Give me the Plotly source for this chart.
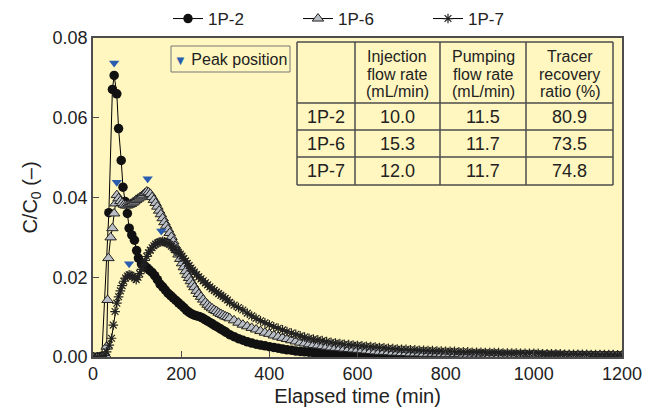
import plotly.graph_objects as go

# ---------------- data ----------------
T_TAIL = list(range(310, 1201, 10))  # sampling times after 300 min

T_1P2_EARLY = [0, 10, 20, 36, 44, 48, 54, 58, 64, 68, 73, 78, 82, 88, 94, 99, 103, 110, 116, 122,
               128, 134, 140, 146, 152, 158, 164, 170, 176, 182, 188, 194, 200, 206, 212, 218, 224,
               230, 236, 242, 248, 254, 260, 266, 272, 278, 284, 290, 296, 302]
C_1P2_EARLY = [0, 0, 0.0002, 0.0362, 0.0671, 0.0706, 0.0660, 0.0573, 0.0493, 0.0426, 0.0390, 0.0360,
               0.0323, 0.0306, 0.0293, 0.0267, 0.0248, 0.0233, 0.0229, 0.0224, 0.0218, 0.0212, 0.0204,
               0.0194, 0.0183, 0.0176, 0.0168, 0.0160, 0.0154, 0.0148, 0.0142, 0.0136, 0.0130, 0.0124,
               0.0117, 0.0112, 0.0108, 0.0105, 0.0103, 0.0101, 0.0098, 0.0094, 0.0090, 0.0086, 0.0082,
               0.0078, 0.0074, 0.0070, 0.0066, 0.0062]
C_1P2_TAIL = [0.0056, 0.0051, 0.0046, 0.0042, 0.0038, 0.0035, 0.0032, 0.0030, 0.0028, 0.0026,
              0.0024, 0.0022, 0.0020, 0.0018, 0.0017, 0.0015, 0.0014, 0.0013, 0.0012, 0.0011,
              0.0011, 0.0010, 0.0010, 0.0009, 0.0009, 0.0008, 0.0008, 0.0007, 0.0007, 0.0007,
              0.0006, 0.0006, 0.0006, 0.0006, 0.0005, 0.0005, 0.0005, 0.0005, 0.0005, 0.0004,
              0.0004, 0.0005, 0.0004, 0.0004, 0.0004, 0.0004, 0.0005, 0.0004, 0.0004, 0.0004,
              0.0004, 0.0004, 0.0004, 0.0003, 0.0004, 0.0004, 0.0003, 0.0004, 0.0003, 0.0003,
              0.0003, 0.0004, 0.0003, 0.0003, 0.0003, 0.0003, 0.0004, 0.0003, 0.0003, 0.0003,
              0.0003, 0.0003, 0.0003, 0.0003, 0.0003, 0.0002, 0.0003, 0.0003, 0.0003, 0.0003,
              0.0003, 0.0002, 0.0003, 0.0003, 0.0002, 0.0003, 0.0003, 0.0002, 0.0003, 0.0003]

T_1P6_EARLY = [0, 10, 20, 28, 31, 33, 35, 40, 44, 48, 51, 54, 58, 62, 66, 70, 74, 78, 82, 86, 90, 94,
               98, 102, 106, 110, 114, 118, 122, 126, 130, 134, 138, 142, 146, 150, 154, 158, 162, 166,
               170, 174, 178, 182, 186, 190, 194, 198, 202, 206, 210, 214, 218, 222, 226, 230, 235,
               240, 245, 250, 255, 260, 265, 270, 275, 280, 285, 290, 295, 300, 305]
C_1P6_EARLY = [0, 0, 0, 0.0005, 0.0026, 0.0143, 0.0248, 0.0300, 0.0323, 0.0360, 0.0385, 0.0406,
               0.0398, 0.0391, 0.0386, 0.0382, 0.0380, 0.0380, 0.0382, 0.0384, 0.0387, 0.0390, 0.0394,
               0.0397, 0.0400, 0.0403, 0.0407, 0.0411, 0.0415, 0.0413, 0.0409, 0.0401, 0.0394, 0.0386,
               0.0377, 0.0367, 0.0358, 0.0348, 0.0338, 0.0329, 0.0320, 0.0311, 0.0301, 0.0290, 0.0279,
               0.0268, 0.0257, 0.0246, 0.0235, 0.0225, 0.0215, 0.0206, 0.0198, 0.0190, 0.0182, 0.0175,
               0.0166, 0.0158, 0.0151, 0.0144, 0.0137, 0.0131, 0.0126, 0.0122, 0.0118, 0.0115, 0.0111,
               0.0108, 0.0105, 0.0102, 0.0100]
C_1P6_TAIL = [0.0097, 0.0092, 0.0086, 0.0081, 0.0077, 0.0073, 0.0069, 0.0065, 0.0061, 0.0058,
              0.0054, 0.0051, 0.0048, 0.0045, 0.0042, 0.0039, 0.0036, 0.0034, 0.0032, 0.0030,
              0.0029, 0.0027, 0.0026, 0.0024, 0.0023, 0.0022, 0.0021, 0.0020, 0.0019, 0.0018,
              0.0017, 0.0016, 0.0015, 0.0014, 0.0013, 0.0013, 0.0012, 0.0011, 0.0011, 0.0010,
              0.0010, 0.0009, 0.0009, 0.0009, 0.0008, 0.0008, 0.0008, 0.0008, 0.0007, 0.0007,
              0.0007, 0.0007, 0.0007, 0.0006, 0.0006, 0.0006, 0.0006, 0.0006, 0.0006, 0.0005,
              0.0005, 0.0005, 0.0005, 0.0005, 0.0005, 0.0005, 0.0005, 0.0005, 0.0004, 0.0005,
              0.0004, 0.0004, 0.0005, 0.0004, 0.0004, 0.0004, 0.0004, 0.0004, 0.0004, 0.0004,
              0.0004, 0.0004, 0.0003, 0.0004, 0.0004, 0.0004, 0.0003, 0.0004, 0.0004, 0.0003]

T_1P7_EARLY = [0, 10, 20, 27, 31, 37, 42, 46, 50, 54, 58, 62, 66, 70, 74, 78, 82, 86, 90, 94, 98,
               102, 106, 110, 114, 118, 122, 126, 130, 134, 138, 142, 146, 150, 154, 158, 162, 166,
               170, 174, 178, 182, 186, 190, 194, 198, 202, 206, 210, 214, 218, 222, 226, 230, 235,
               240, 245, 250, 255, 260, 265, 270, 275, 280, 285, 290, 295, 300, 305]
C_1P7_EARLY = [0, 0, 0, 0.0004, 0.0013, 0.0030, 0.0047, 0.0080, 0.0114, 0.0135, 0.0151, 0.0166,
               0.0179, 0.0190, 0.0198, 0.0203, 0.0206, 0.0205, 0.0202, 0.0198, 0.0194, 0.0200, 0.0209,
               0.0220, 0.0231, 0.0242, 0.0252, 0.0261, 0.0268, 0.0274, 0.0279, 0.0283, 0.0286, 0.0288,
               0.0289, 0.0290, 0.0289, 0.0287, 0.0285, 0.0282, 0.0278, 0.0274, 0.0270, 0.0266, 0.0262,
               0.0258, 0.0253, 0.0247, 0.0241, 0.0235, 0.0229, 0.0223, 0.0218, 0.0213, 0.0207, 0.0201,
               0.0196, 0.0191, 0.0186, 0.0181, 0.0176, 0.0171, 0.0167, 0.0163, 0.0159, 0.0155, 0.0151,
               0.0147, 0.0143]
C_1P7_TAIL = [0.0137, 0.0130, 0.0124, 0.0118, 0.0110, 0.0103, 0.0097, 0.0091, 0.0086, 0.0081,
              0.0076, 0.0072, 0.0068, 0.0064, 0.0060, 0.0057, 0.0053, 0.0050, 0.0047, 0.0045,
              0.0043, 0.0041, 0.0039, 0.0037, 0.0035, 0.0034, 0.0032, 0.0031, 0.0030, 0.0029,
              0.0028, 0.0027, 0.0026, 0.0025, 0.0024, 0.0023, 0.0022, 0.0021, 0.0020, 0.0019,
              0.0019, 0.0018, 0.0018, 0.0017, 0.0017, 0.0016, 0.0016, 0.0015, 0.0015, 0.0014,
              0.0014, 0.0014, 0.0013, 0.0013, 0.0013, 0.0012, 0.0012, 0.0012, 0.0011, 0.0011,
              0.0011, 0.0011, 0.0010, 0.0010, 0.0010, 0.0010, 0.0009, 0.0009, 0.0009, 0.0009,
              0.0009, 0.0008, 0.0008, 0.0008, 0.0008, 0.0008, 0.0007, 0.0007, 0.0007, 0.0007,
              0.0007, 0.0007, 0.0006, 0.0006, 0.0006, 0.0006, 0.0006, 0.0006, 0.0005, 0.0005]

PEAK_T = [48, 54, 124, 82, 155]
PEAK_C = [0.0737, 0.0438, 0.0447, 0.0234, 0.0316]

TABLE_HEADERS = [["Injection", "flow rate", "(mL/min)"],
                 ["Pumping", "flow rate", "(mL/min)"],
                 ["Tracer", "recovery", "ratio (%)"]]
TABLE_WELLS = ["1P-2", "1P-6", "1P-7"]
TABLE_INJ = ["10.0", "15.3", "12.0"]
TABLE_PUMP = ["11.5", "11.7", "11.7"]
TABLE_REC = ["80.9", "73.5", "74.8"]

X_TICKS = [0, 200, 400, 600, 800, 1000, 1200]
Y_TICKS = [0, 0.02, 0.04, 0.06, 0.08]

# ---------------- style ----------------
BG = "#FFF7BF"
AX = "#4d4d4d"
FONT = "Liberation Sans, Arial, sans-serif"
OFF = 8                      # page body margin of the browser
W, H = 653 - OFF, 417 - OFF  # figure size so that it fills the window
PL, PR, PT, PB = 93, 622, 38, 357  # plot area in page pixels


def px(xp):
    return (xp - PL) / (PR - PL)


def py(yp):
    return (PB - yp) / (PB - PT)


fig = go.Figure()
fig.add_trace(go.Scatter(
    x=T_1P2_EARLY + T_TAIL, y=C_1P2_EARLY + C_1P2_TAIL, name="1P-2",
    mode="lines+markers", line=dict(color="black", width=1),
    marker=dict(symbol="circle", size=9.5, color="#111111")))
fig.add_trace(go.Scatter(
    x=T_1P6_EARLY + T_TAIL, y=C_1P6_EARLY + C_1P6_TAIL, name="1P-6",
    mode="lines+markers", line=dict(color="black", width=1),
    marker=dict(symbol="triangle-up", size=10, color="#B9BDC4", line=dict(color="#222", width=1))))
fig.add_trace(go.Scatter(
    x=T_1P7_EARLY + T_TAIL, y=C_1P7_EARLY + C_1P7_TAIL, name="1P-7",
    mode="lines+markers", line=dict(color="black", width=1),
    marker=dict(symbol="asterisk-open", size=8, color="#222", line=dict(color="#222", width=1.2))))
fig.add_trace(go.Scatter(
    x=PEAK_T, y=PEAK_C, mode="markers", showlegend=False, name="Peak position",
    marker=dict(symbol="triangle-down", size=9, color="#2A5DB0")))

shapes = []
annotations = []
# table
tx0, tx1, ty0, ty1 = 297, 613, 42, 185
col_x = [tx0, 355, 440, 526, tx1]
row_y = [ty0, 103, 130, 157, ty1]
for cx in col_x:
    shapes.append(dict(type="line", xref="paper", yref="paper", x0=px(cx), x1=px(cx),
                       y0=py(ty0), y1=py(ty1), line=dict(color=AX, width=1.5)))
for ry in row_y:
    shapes.append(dict(type="line", xref="paper", yref="paper", x0=px(tx0), x1=px(tx1),
                       y0=py(ry), y1=py(ry), line=dict(color=AX, width=1.5)))
header_line_y = [57, 74, 91]
for ci, lines in enumerate(TABLE_HEADERS):
    cxm = (col_x[ci + 1] + col_x[ci + 2]) / 2
    for li, txt in enumerate(lines):
        annotations.append(dict(xref="paper", yref="paper", x=px(cxm), y=py(header_line_y[li]),
                                text=txt, showarrow=False, xanchor="center", yanchor="middle",
                                font=dict(size=16, color="#222", family=FONT)))
for ri in range(3):
    cyy = (row_y[ri + 1] + row_y[ri + 2]) / 2
    vals = [TABLE_WELLS[ri], TABLE_INJ[ri], TABLE_PUMP[ri], TABLE_REC[ri]]
    for ci, v in enumerate(vals):
        cxm = (col_x[ci] + col_x[ci + 1]) / 2
        annotations.append(dict(xref="paper", yref="paper", x=px(cxm), y=py(cyy),
                                text=v, showarrow=False, xanchor="center", yanchor="middle",
                                font=dict(size=18, color="#222", family=FONT)))
# peak position box
shapes.append(dict(type="rect", xref="paper", yref="paper", x0=px(171), x1=px(290),
                   y0=py(46), y1=py(72), line=dict(color="#777", width=1)))
annotations.append(dict(xref="paper", yref="paper", x=px(230.5), y=py(59),
                        text='<span style="color:#2A5DB0;font-size:13px">▼</span> Peak position',
                        showarrow=False, xanchor="center", yanchor="middle",
                        font=dict(size=16, color="#222", family=FONT)))

fig.update_layout(
    width=W, height=H,
    margin=dict(l=PL - OFF, r=653 - PR, t=PT - OFF, b=417 - PB, pad=0, autoexpand=False),
    paper_bgcolor="white", plot_bgcolor=BG,
    font=dict(family=FONT, color="#222", size=18),
    showlegend=True,
    legend=dict(orientation="h", x=px(168), y=py(37), xanchor="left", yanchor="bottom",
                font=dict(size=17, family=FONT, color="#222"), itemwidth=30,
                entrywidth=85, entrywidthmode="pixels", bgcolor="rgba(0,0,0,0)",
                tracegroupgap=0),
    shapes=shapes, annotations=annotations,
    xaxis=dict(range=[0, 1200], tickvals=X_TICKS, ticks="inside", ticklen=6, tickcolor=AX,
               showline=True, linecolor=AX, linewidth=1.5, mirror=True, showgrid=False,
               zeroline=False, tickfont=dict(size=18), automargin=False,
               title=dict(text="Elapsed time (min)", font=dict(size=20), standoff=6)),
    yaxis=dict(range=[0, 0.08], tickvals=Y_TICKS, tickformat=".2f", ticks="inside", ticklen=6,
               tickcolor=AX, showline=True, linecolor=AX, linewidth=1.5, mirror=True,
               showgrid=False, zeroline=False, tickfont=dict(size=18), automargin=False,
               title=dict(text="C/C<sub>0</sub> (–)", font=dict(size=20), standoff=10)),
)

fig.write_html("out.html")
